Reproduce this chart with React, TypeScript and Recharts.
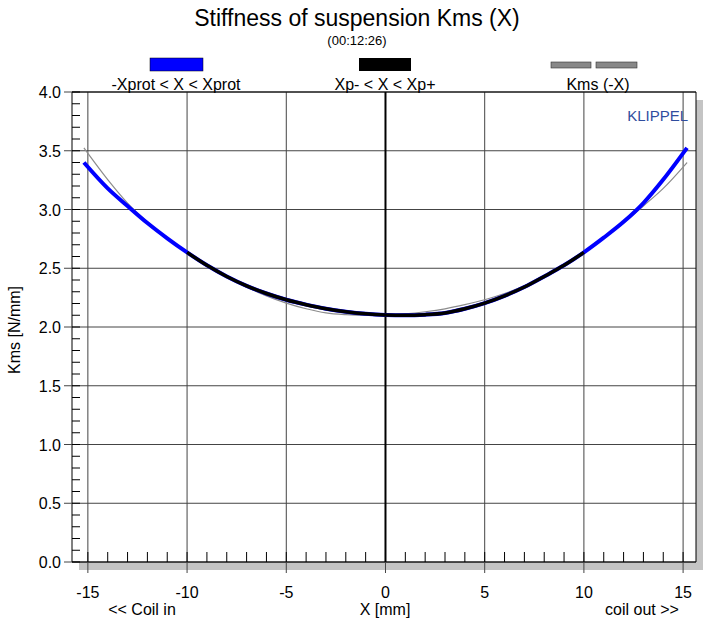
import { LineChart, Line, XAxis, YAxis, CartesianGrid, ReferenceLine } from 'recharts';

// displacement positions [mm]
const xPos = [-15.2, -14, -13, -12, -11, -10, -9, -8, -7, -6, -5, -4, -3, -2, -1, 0, 1, 2, 3, 4, 5, 6, 7, 8, 9, 10, 11, 12, 13, 14, 15.2];

// Kms(X) over -Xprot < X < Xprot
const kmsProt = [3.4, 3.18, 3.03, 2.885, 2.755, 2.635, 2.525, 2.43, 2.35, 2.285, 2.232, 2.19, 2.155, 2.13, 2.112, 2.102, 2.099, 2.105, 2.12, 2.155, 2.203, 2.265, 2.34, 2.43, 2.525, 2.635, 2.76, 2.895, 3.055, 3.255, 3.525];

// Kms(X) over Xp- < X < Xp+
const kmsXp = [null, null, null, null, null, 2.635, 2.525, 2.43, 2.35, 2.285, 2.232, 2.19, 2.155, 2.13, 2.112, 2.102, 2.099, 2.105, 2.12, 2.155, 2.203, 2.265, 2.34, 2.43, 2.525, 2.635, null, null, null, null, null];

// Kms(-X)
const kmsMirror = [3.525, 3.255, 3.055, 2.895, 2.76, 2.635, 2.525, 2.43, 2.34, 2.265, 2.203, 2.155, 2.12, 2.105, 2.099, 2.102, 2.112, 2.13, 2.155, 2.19, 2.232, 2.285, 2.35, 2.43, 2.525, 2.635, 2.755, 2.885, 3.03, 3.18, 3.4];

const xTicks = [-15, -10, -5, 0, 5, 10, 15];
const yTicks = [0, 0.5, 1, 1.5, 2, 2.5, 3, 3.5, 4];
const xMinor = Array.from({ length: 31 }, (_, i) => i - 15);
const yMinor = Array.from({ length: 41 }, (_, i) => i / 10);

const X_DOMAIN: [number, number] = [-15.8, 15.65];

const data = xPos.map((x, i) => ({
  x,
  prot: kmsProt[i],
  xp: kmsXp[i],
  mirror: kmsMirror[i],
}));

const FONT = '"Liberation Sans", Arial, Helvetica, sans-serif';

// bottom axis: minor ticks inward, major ticks outward with labels
const XTick = (props: any) => {
  const { x, y, payload } = props;
  const v = payload.value;
  const major = xTicks.includes(v);
  return (
    <g>
      <line x1={x} x2={x} y1={y} y2={y - 10} stroke="#000" />
      {major && <line x1={x} x2={x} y1={y} y2={y + 11} stroke="#444" />}
      {major && (
        <text x={x} y={y + 36} textAnchor="middle" fontSize={16} fontFamily={FONT} fill="#000">{v}</text>
      )}
    </g>
  );
};

const YTick = (props: any) => {
  const { x, y, payload } = props;
  const v = payload.value;
  const major = Math.abs(v * 2 - Math.round(v * 2)) < 1e-6;
  return (
    <g>
      <line x1={x} x2={x + 8} y1={y} y2={y} stroke="#000" />
      {major && <line x1={x - 8} x2={x} y1={y} y2={y} stroke="#444" />}
      {major && (
        <text x={x - 11} y={y + 6} textAnchor="end" fontSize={16} fontFamily={FONT} fill="#000">{v.toFixed(1)}</text>
      )}
    </g>
  );
};

export default function App() {
  return (
    <div style={{ position: 'absolute', left: 0, top: 0, width: 704, height: 622, background: '#fff', fontFamily: FONT }}>
      {/* drop shadow of the plot frame */}
      <div style={{ position: 'absolute', left: 79, top: 100, width: 624, height: 470, background: '#c4c4c4' }} />
      <div style={{ position: 'absolute', left: 0, top: 0 }}>
        <LineChart width={704} height={622} data={data} margin={{ top: 92, right: 8, bottom: 30, left: 12 }}>
          <CartesianGrid fill="#fff" fillOpacity={1} stroke="#444" strokeWidth={1} verticalValues={xTicks} horizontalValues={yTicks} />
          <XAxis
            dataKey="x"
            type="number"
            domain={X_DOMAIN}
            ticks={xMinor}
            interval={0}
            allowDataOverflow
            height={30}
            tickSize={0}
            tickMargin={0}
            tickLine={false}
            axisLine={{ stroke: '#000' }}
            tick={<XTick />}
          />
          <YAxis
            domain={[0, 4]}
            ticks={yMinor}
            interval={0}
            width={60}
            tickSize={0}
            tickMargin={0}
            tickLine={false}
            axisLine={{ stroke: '#000' }}
            tick={<YTick />}
          />
          <ReferenceLine x={0} stroke="#000" strokeWidth={2} />
          <ReferenceLine x={X_DOMAIN[1]} stroke="#000" strokeWidth={1} />
          <ReferenceLine y={4} stroke="#000" strokeWidth={1} />
          <Line dataKey="mirror" type="monotone" stroke="#8c8c8c" strokeWidth={1.2} dot={false} isAnimationActive={false} />
          <Line dataKey="prot" type="monotone" stroke="#0000ff" strokeWidth={4} dot={false} isAnimationActive={false} />
          <Line dataKey="xp" type="monotone" stroke="#000" strokeWidth={3.5} dot={false} connectNulls={false} isAnimationActive={false} />
        </LineChart>
      </div>
      <svg width={704} height={622} style={{ position: 'absolute', left: 0, top: 0, pointerEvents: 'none' }} fontFamily={FONT}>
        <text x={357} y={26} textAnchor="middle" fontSize={23} fill="#000">Stiffness of suspension Kms (X)</text>
        <text x={357} y={45} textAnchor="middle" fontSize={13} fill="#000">(00:12:26)</text>

        <rect x={150} y={58} width={53} height={13} fill="#0000ff" stroke="#000" strokeWidth={0.5} />
        <text x={176} y={90} textAnchor="middle" fontSize={16} fill="#000">-Xprot &lt; X &lt; Xprot</text>
        <rect x={359} y={58} width={52} height={13} fill="#000" />
        <text x={385} y={90} textAnchor="middle" fontSize={16} fill="#000">Xp- &lt; X &lt; Xp+</text>
        <rect x={551} y={62} width={40} height={6} fill="#888" stroke="#333" strokeWidth={0.6} />
        <rect x={596} y={62} width={41} height={6} fill="#888" stroke="#333" strokeWidth={0.6} />
        <text x={598} y={90} textAnchor="middle" fontSize={16} fill="#000">Kms (-X)</text>

        <text x={688} y={121} textAnchor="end" fontSize={15} fill="#2f4d9e">KLIPPEL</text>

        <text transform="translate(20,330) rotate(-90)" textAnchor="middle" fontSize={16} fill="#000">Kms [N/mm]</text>
        <text x={142} y={615} textAnchor="middle" fontSize={16} fill="#000">&lt;&lt; Coil in</text>
        <text x={385} y={615} textAnchor="middle" fontSize={16} fill="#000">X [mm]</text>
        <text x={642} y={615} textAnchor="middle" fontSize={16} fill="#000">coil out &gt;&gt;</text>
      </svg>
    </div>
  );
}
